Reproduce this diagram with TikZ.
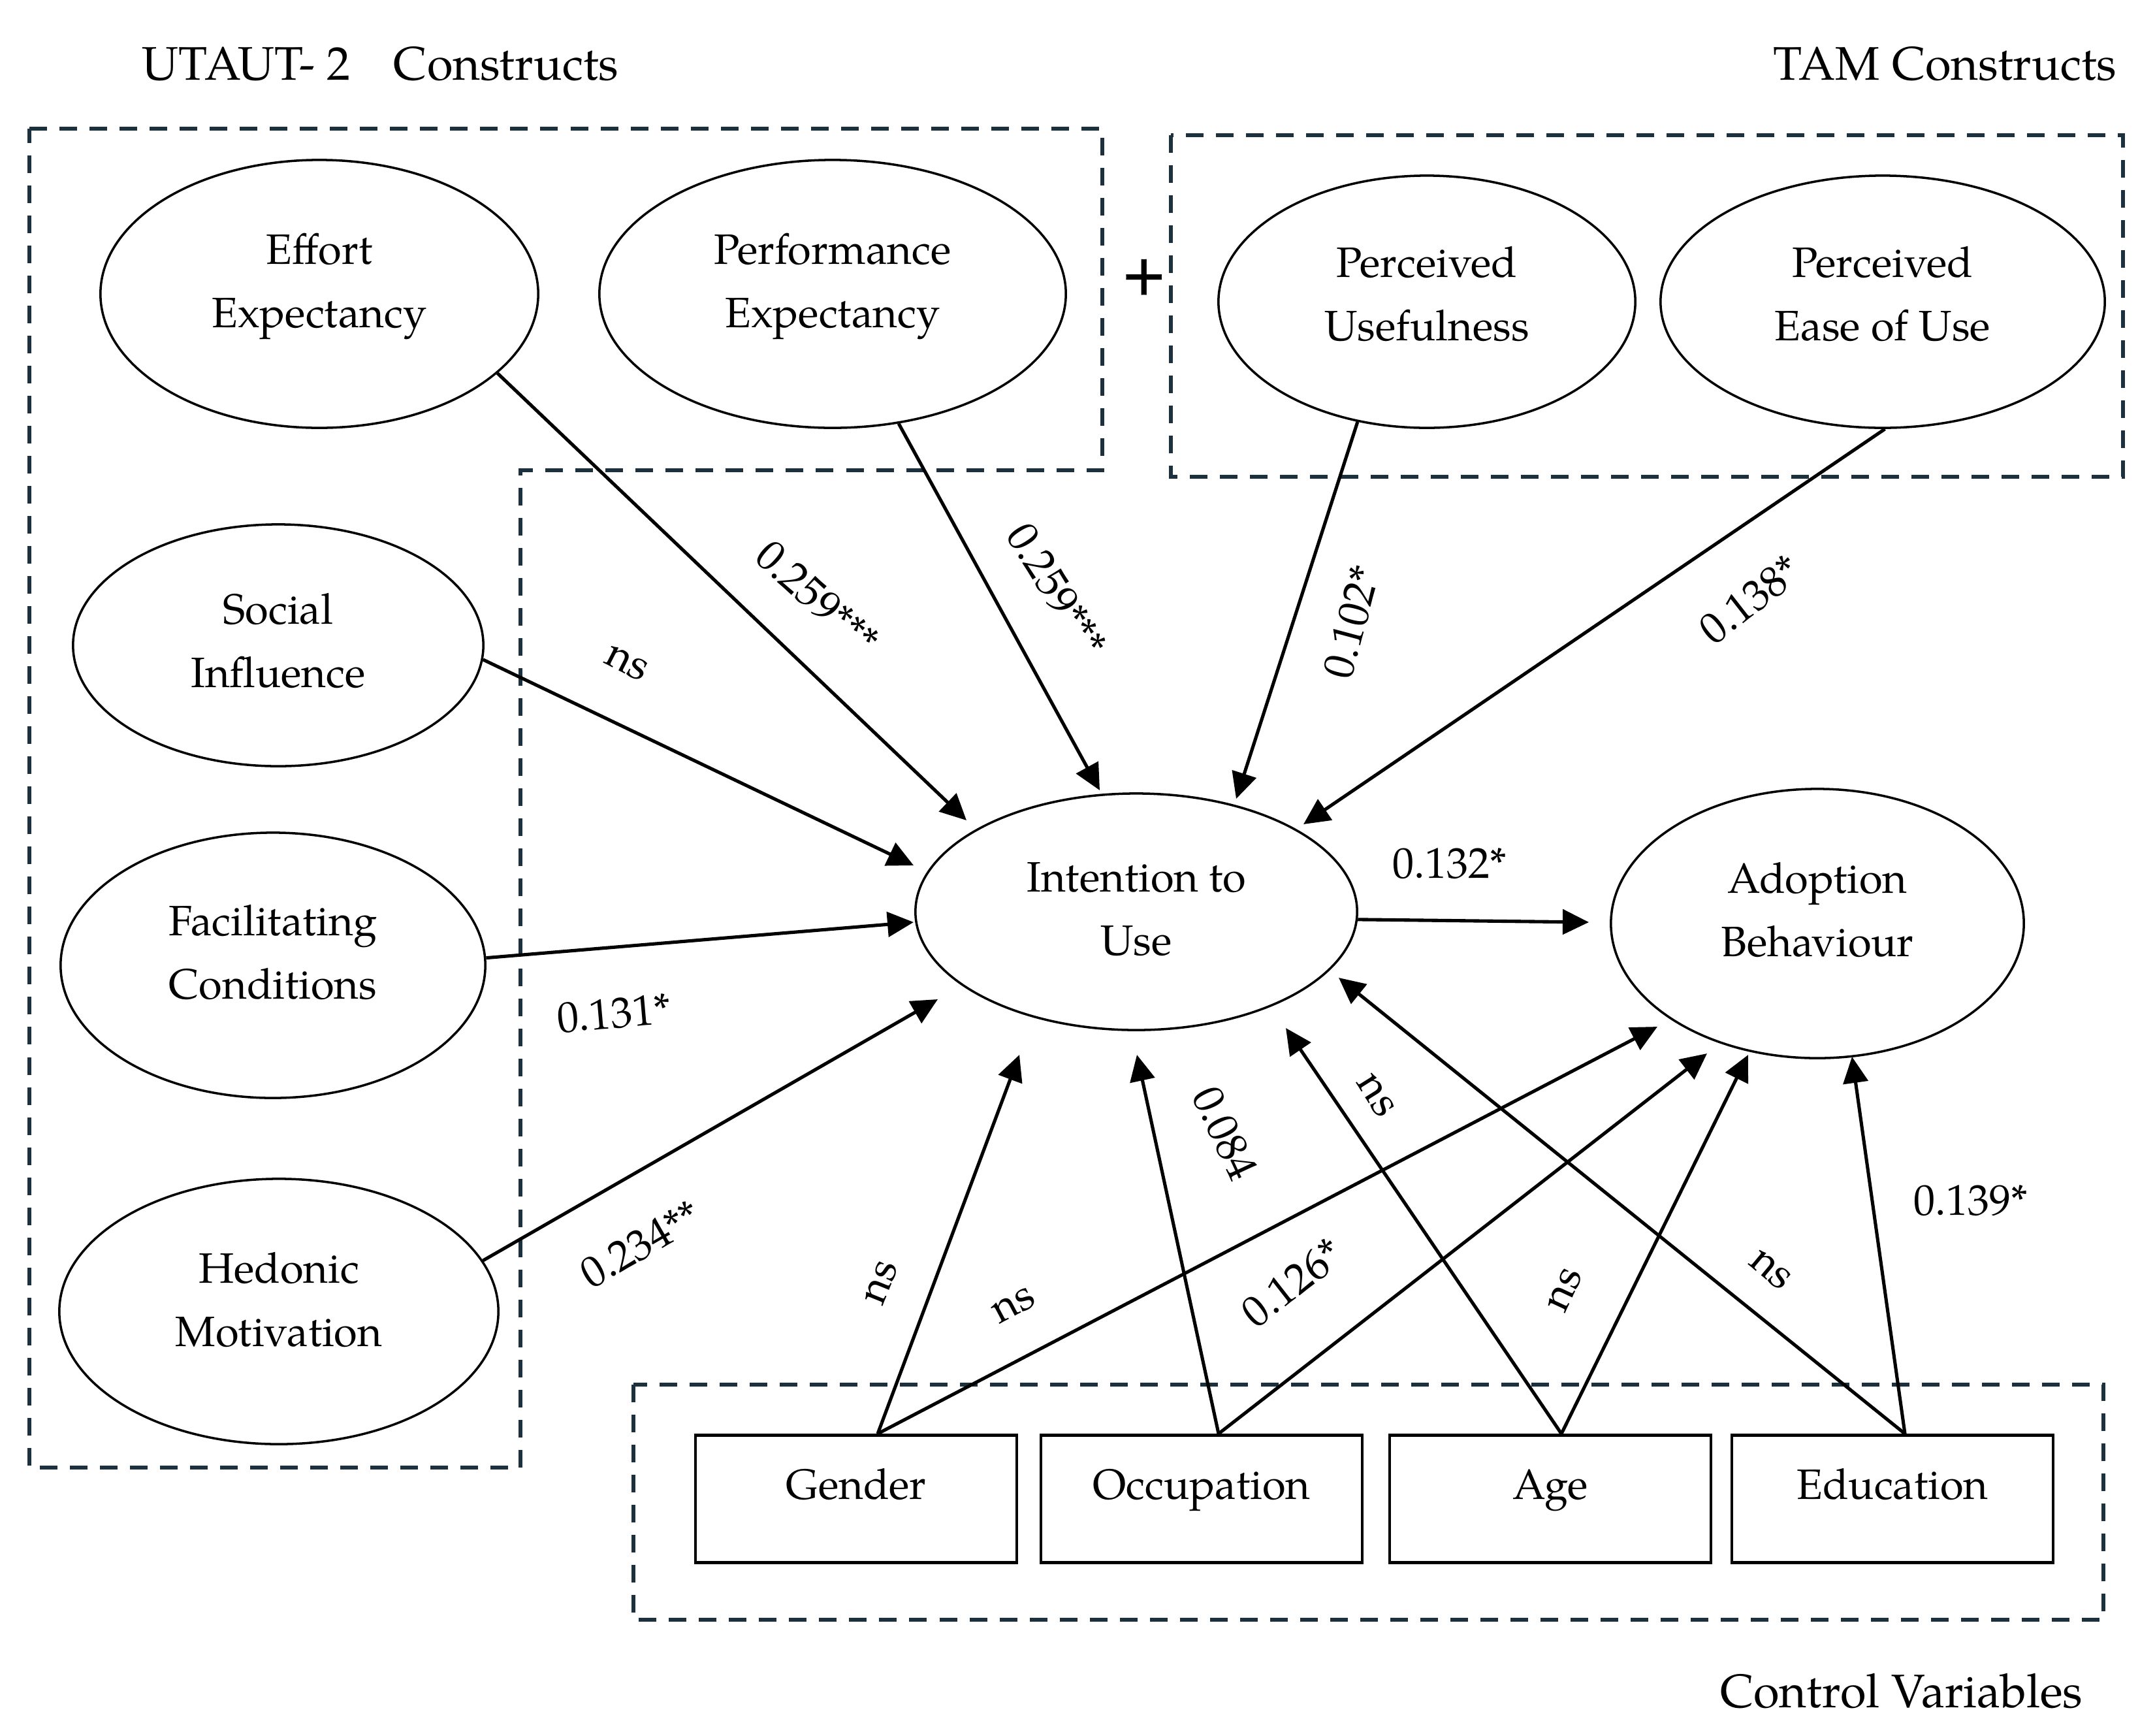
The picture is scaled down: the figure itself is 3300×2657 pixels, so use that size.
\documentclass[tikz,border=0pt]{standalone}
\usepackage{fontspec}
\setmainfont{TeX Gyre Pagella}
\usetikzlibrary{arrows.meta,shapes.geometric,calc}
\definecolor{dashc}{RGB}{28,48,62}
\newcommand\myNodeFont{\fontsize{18.5}{27.5}\selectfont}
\newcommand\myLabFont{\fontsize{18.8}{20}\selectfont}
\newcommand\myTitleFont{\fontsize{20.5}{24}\selectfont}
\tikzset{
  cons/.style={ellipse, draw, line width=1pt, inner sep=0pt, align=center, font=\myNodeFont, text depth=0.4cm},
  tsh/.style={text height=#1},
  ctrl/.style={rectangle, draw, line width=1.3pt, minimum width=4.92cm, minimum height=1.95cm, inner sep=0pt, font=\myNodeFont, text height=0.3cm, text depth=0.3cm},
  arr/.style={line width=1.45pt, -{Triangle[length=0.40cm,width=0.38cm]}},
  grp/.style={draw=dashc, line width=1.6pt, dash pattern=on 0.27cm off 0.19cm},
  lab/.style={font=\myLabFont, inner sep=0pt},
  ttl/.style={font=\myTitleFont, inner sep=0pt},
}
\begin{document}
\begin{tikzpicture}[x=0.01cm,y=-0.01cm]
\useasboundingbox (0,0) rectangle (3300,2657);

% titles
\node[ttl, anchor=base west] (tutaut) at (217,122) {UTAUT- 2\hspace{0.66cm}Constructs};
\node[ttl, anchor=base east] (ttam) at (3242,122) {TAM Constructs};
\node[ttl, anchor=base east] (tctrl) at (3190,2614) {Control Variables};
\node[font=\fontsize{26}{28}\selectfont\bfseries, inner sep=0pt] (plus) at (1752,425) {+};

% dashed groups
\draw[grp] (45,197) -- (1688,197) -- (1688,720) -- (797,720) -- (797,2247) -- (45,2247) -- cycle;
\draw[grp] (1793,207) rectangle (3251,730);
\draw[grp] (970,2120) rectangle (3221,2480);

% constructs
\node[cons, tsh=1.42cm, minimum width=6.70cm, minimum height=4.10cm] (eff) at (489,450) {Effort\\Expectancy};
\node[cons, tsh=1.42cm, minimum width=7.14cm, minimum height=4.10cm] (perf) at (1275,450) {Performance\\Expectancy};
\node[cons, tsh=1.59cm, minimum width=6.38cm, minimum height=3.86cm] (pu) at (2185,462) {Perceived\\Usefulness};
\node[cons, tsh=1.59cm, minimum width=6.80cm, minimum height=3.86cm] (peou) at (2883,462) {Perceived\\Ease of Use};
\node[cons, tsh=1.68cm, minimum width=6.28cm, minimum height=3.70cm] (soc) at (426,988) {Social\\Influence};
\node[cons, tsh=1.42cm, minimum width=6.50cm, minimum height=4.06cm] (fac) at (418,1478) {Facilitating\\Conditions};
\node[cons, tsh=1.46cm, minimum width=6.72cm, minimum height=4.06cm] (hed) at (427,2008) {Hedonic\\Motivation};
\node[cons, tsh=1.72cm, minimum width=6.76cm, minimum height=3.62cm] (itu) at (1740,1396) {Intention to\\Use};
\node[cons, tsh=1.40cm, minimum width=6.32cm, minimum height=4.12cm] (ado) at (2783,1414) {Adoption\\Behaviour};

% control variables
\node[ctrl] (gen) at (1311,2295) {Gender};
\node[ctrl] (occ) at (1840,2295) {Occupation};
\node[ctrl] (age) at (2374,2295) {Age};
\node[ctrl] (edu) at (2898,2295) {Education};

% arrow tips (free ends)
\coordinate (tEff) at (1480,1256);
\coordinate (tPerf) at (1684,1210);
\coordinate (tSoc) at (1399,1325);
\coordinate (tFac) at (1399,1412);
\coordinate (tHed) at (1436,1530);
\coordinate (tPu) at (1893,1223);
\coordinate (tPeou) at (1996,1262);
\coordinate (tAdo) at (2433,1412);
\coordinate (tGenI) at (1561,1615);
\coordinate (tGenA) at (2538,1572);
\coordinate (tOccI) at (1741,1615);
\coordinate (tOccA) at (2614,1613);
\coordinate (tAgeI) at (1969,1574);
\coordinate (tAgeA) at (2677,1615);
\coordinate (tEduI) at (2050,1497);
\coordinate (tEduA) at (2836,1618);

% arrows
\draw[arr] (eff.-24) -- (tEff);
\draw[arr] (perf.-63) -- (tPerf);
\draw[arr] (soc.-4) -- (tSoc);
\draw[arr] (fac.2) -- (tFac);
\draw[arr] (hed.14.5) -- (tHed);
\draw[arr] (pu.240.8) -- (tPu);
\draw[arr] (peou.271.5) -- (tPeou);
\draw[arr] (itu.-2.7) -- (tAdo);
\draw[arr] ([xshift=0.33cm]gen.north) -- (tGenI);
\draw[arr] ([xshift=0.33cm]gen.north) -- (tGenA);
\draw[arr] ([xshift=0.26cm]occ.north) -- (tOccI);
\draw[arr] ([xshift=0.26cm]occ.north) -- (tOccA);
\draw[arr] ([xshift=0.17cm]age.north) -- (tAgeI);
\draw[arr] ([xshift=0.17cm]age.north) -- (tAgeA);
\draw[arr] ([xshift=0.19cm]edu.north) -- (tEduI);
\draw[arr] ([xshift=0.19cm]edu.north) -- (tEduA);

% path labels
\node[lab, rotate=-42] (l1) at (1252,916) {0.259***};
\node[lab, rotate=-58] (l2) at (1618,904) {0.259***};
\node[lab, rotate=-27] (l3) at (960,1016) {ns};
\node[lab, rotate=5] (l4) at (940,1552) {0.131*};
\node[lab, rotate=30] (l5) at (981,1905) {0.234**};
\node[lab, rotate=75] (l6) at (2070,952) {0.102*};
\node[lab, rotate=38] (l7) at (2680,918) {0.138*};
\node[lab] (l8) at (2220,1322) {0.132*};
\node[lab, rotate=-65] (l9) at (1876,1735) {0.084};
\node[lab, rotate=-58] (l10) at (2107,1678) {ns};
\node[lab, rotate=38] (l11) at (1979,1964) {0.126*};
\node[lab, rotate=28] (l12) at (1553,1999) {ns};
\node[lab, rotate=68] (l13) at (1350,1964) {ns};
\node[lab, rotate=65] (l14) at (2397,1975) {ns};
\node[lab, rotate=-40] (l15) at (2711,1945) {ns};
\node[lab] (l16) at (3018,1838) {0.139*};
\end{tikzpicture}
\end{document}
